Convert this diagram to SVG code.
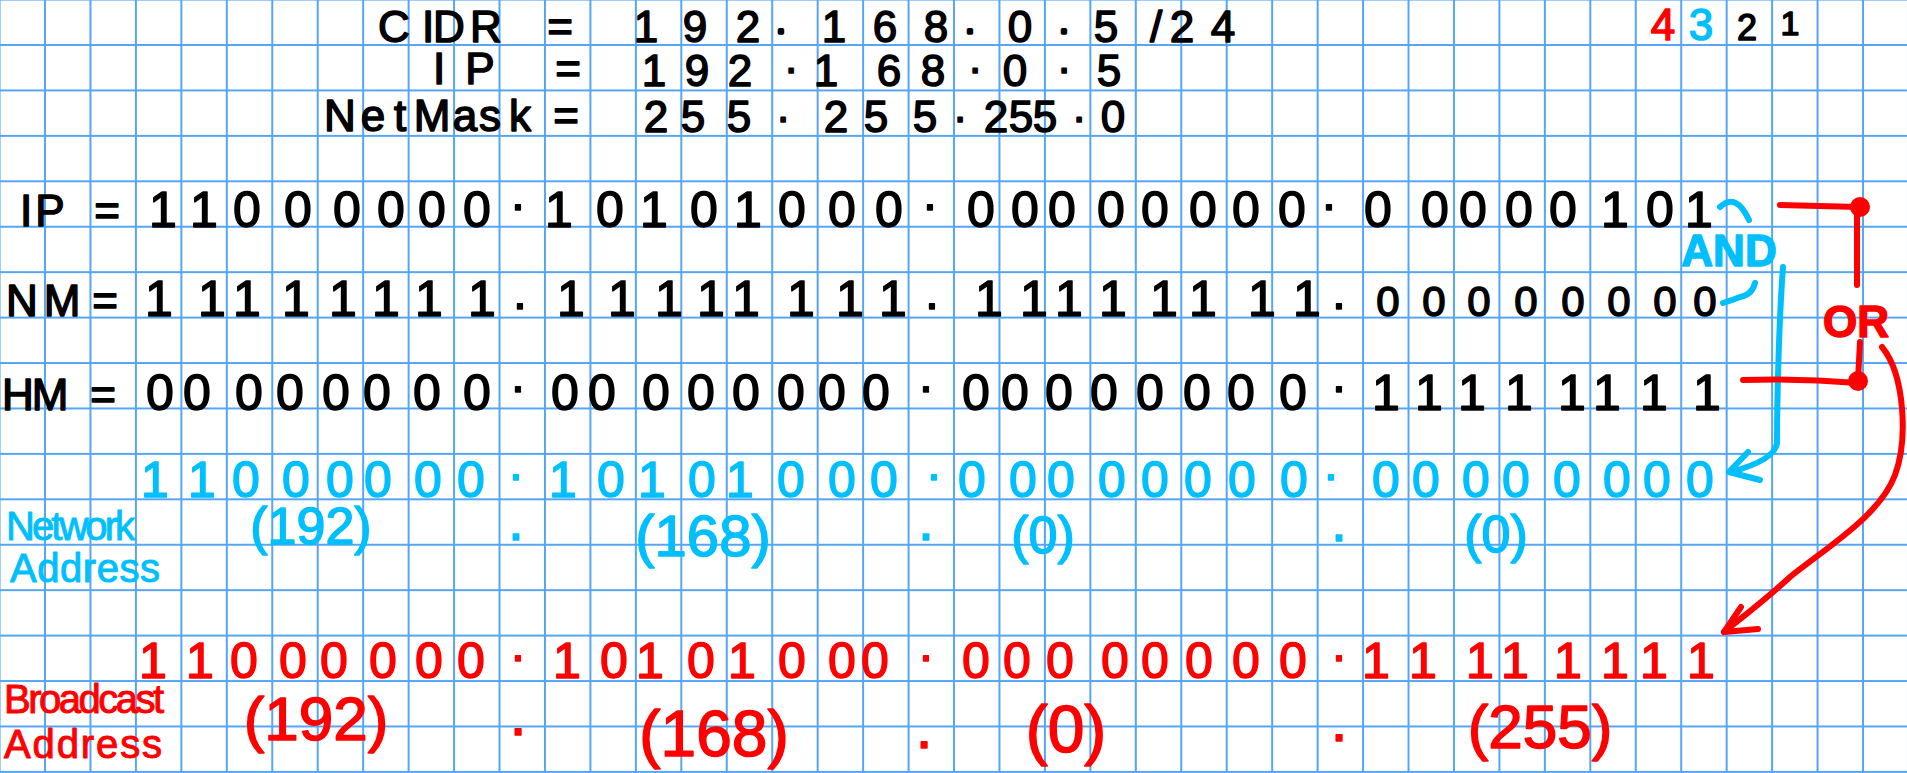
<svg xmlns="http://www.w3.org/2000/svg" width="1907" height="773" viewBox="0 0 1907 773">
<style>
text{font-family:"Liberation Sans",Arial,sans-serif;text-anchor:middle;stroke-width:1.5;stroke-linejoin:round}
.k{fill:#000;stroke:#000}
.b{fill:#00bfff;stroke:#00bfff}
.r{fill:#ff0000;stroke:#ff0000}
.hd{font-size:44px}
.bin{font-size:50px}
.lbl{font-size:40px;text-anchor:start;stroke-width:1}
.sd{font-size:30px;stroke-width:3.5}
.bl{stroke:#00bfff}
.rl{stroke:#ff0000}
</style>
<defs>
<pattern id="grid" patternUnits="userSpaceOnUse" x="22.3" y="22.3" width="45.45" height="45.43">
<path d="M22.7 0V45.43M0 22.7H45.45" stroke="#55a5f5" stroke-width="2" fill="none"/>
</pattern>
</defs>
<rect width="1907" height="773" fill="#fff"/>
<rect width="1907" height="773" fill="url(#grid)"/>

<g id="cidr">
<text class="k hd" y="42" x="394 428 449 486 520 560">CIDR =</text>
<text class="k hd" y="42" x="646 695 748 781 834 885 936 970 1020 1064 1106 1156 1182 1223">192<tspan class="sd" dy="-9">.</tspan><tspan dy="9">168</tspan><tspan class="sd" dy="-9">.</tspan><tspan dy="9">0</tspan><tspan class="sd" dy="-9">.</tspan><tspan dy="9">5/24</tspan></text>
</g>
<g id="ip-dec">
<text class="k hd" y="84" x="439 480 520 568">IP =</text>
<text class="k hd" y="86" x="654 697 740 791 826 889 933 975 1015 1064 1109">192<tspan dy="-13">.</tspan><tspan dy="13">168</tspan><tspan dy="-13">.</tspan><tspan dy="13">0</tspan><tspan dy="-13">.</tspan><tspan dy="13">5</tspan></text>
</g>
<g id="netmask-dec">
<text class="k hd" y="131" x="340 373 400 432 465 490 520 545 566">NetMask =</text>
<text class="k hd" y="132" x="656 693 739 783 836 876 925 960 996 1021 1045 1079 1113">255<tspan dy="-10">.</tspan><tspan dy="10">255</tspan><tspan dy="-10">.</tspan><tspan dy="10">255</tspan><tspan dy="-10">.</tspan><tspan dy="10">0</tspan></text>
</g>
<g id="legend">
<text class="hd" y="40" x="1663 1701 1747 1790"><tspan class="r">4</tspan><tspan class="b">3</tspan><tspan class="k" font-size="36">2</tspan><tspan class="k" font-size="34" dy="-5">1</tspan></text>
</g>

<g id="ip-bin">
<text class="k hd" y="226" x="26 50 80 107">IP =</text>
<text class="k bin" y="227" x="163 204 247 298 347 391 432 477 518 559 610 654 704 748 792 842 889 930 981 1025 1062 1111 1155 1203 1246 1292 1329 1378 1435 1473 1519 1563 1615 1660 1699">11000000<tspan dy="-17">.</tspan><tspan dy="17">10101000</tspan><tspan dy="-17">.</tspan><tspan dy="17">00000000</tspan><tspan dy="-17">.</tspan><tspan dy="17">00000101</tspan></text>
</g>
<g id="nm-bin">
<text class="k hd" y="316" x="22 62 84 105">NM =</text>
<text class="k bin" y="316" x="159 212 247 296 343 386 429 482 520 571 622 669 711 746 801 850 893 932 989 1034 1069 1113 1164 1203 1262 1307 1339 1388 1434 1479 1526 1573 1619 1665 1705">11111111<tspan dy="-7">.</tspan><tspan dy="7">11111111</tspan><tspan dy="-7">.</tspan><tspan dy="7">11111111</tspan><tspan dy="-7">.</tspan><tspan dy="7" font-size="42">00000000</tspan></text>
</g>
<g id="hm-bin">
<text class="k hd" y="410" x="18 50 78 103">HM =</text>
<text class="k bin" y="410" x="160 197 249 290 336 377 427 477 518 565 602 656 701 746 791 832 876 926 976 1015 1059 1104 1150 1197 1241 1293 1339 1386 1429 1472 1519 1572 1607 1654 1707">00000000<tspan dy="-18">.</tspan><tspan dy="18">00000000</tspan><tspan dy="-18">.</tspan><tspan dy="18">00000000</tspan><tspan dy="-18">.</tspan><tspan dy="18">11111111</tspan></text>
</g>

<g id="network-address">
<text class="b bin" y="497" x="155 202 246 296 340 378 428 471 516 563 611 652 702 740 791 842 884 934 972 1023 1061 1112 1155 1198 1242 1294 1331 1386 1426 1476 1516 1567 1617 1657 1700">11000000<tspan dy="-17">.</tspan><tspan dy="17">10101000</tspan><tspan dy="-17">.</tspan><tspan dy="17">00000000</tspan><tspan dy="-17">.</tspan><tspan dy="17">00000000</tspan></text>
<text class="b lbl" x="6" y="540" textLength="129">Network</text>
<text class="b lbl" x="10" y="582" textLength="150">Address</text>
<text class="b" font-size="52" x="311" y="544">(192)</text>
<text class="b" font-size="56" x="516" y="540">.</text>
<text class="b" font-size="58" x="703" y="556">(168)</text>
<text class="b" font-size="56" x="926" y="540">.</text>
<text class="b" font-size="52" x="1043" y="553">(0)</text>
<text class="b" font-size="56" x="1339" y="541">.</text>
<text class="b" font-size="52" x="1496" y="552">(0)</text>
</g>

<g id="broadcast-address">
<text class="r bin" y="678" x="153 200 244 293 334 383 429 471 518 567 614 650 701 742 792 842 875 926 976 1017 1060 1115 1155 1199 1246 1293 1339 1376 1423 1480 1515 1568 1615 1654 1701">11000000<tspan dy="-17">.</tspan><tspan dy="17">10101000</tspan><tspan dy="-17">.</tspan><tspan dy="17">00000000</tspan><tspan dy="-17">.</tspan><tspan dy="17">11111111</tspan></text>
<text class="r lbl" x="4" y="713" font-size="40" textLength="160">Broadcast</text>
<text class="r lbl" x="4" y="758" font-size="42" textLength="158">Address</text>
<text class="r" font-size="62" x="316" y="740">(192)</text>
<text class="r" font-size="60" x="518" y="735">.</text>
<text class="r" font-size="64" x="714" y="756">(168)</text>
<text class="r" font-size="60" x="924" y="748">.</text>
<text class="r" font-size="66" x="1066" y="752">(0)</text>
<text class="r" font-size="60" x="1339" y="741">.</text>
<text class="r" font-size="62" x="1540" y="748">(255)</text>
</g>

<g id="and-label">
<text class="b" font-size="44" font-weight="bold" x="1729" y="266">AND</text>
</g>
<g id="or-label">
<text class="r" font-size="44" font-weight="bold" x="1856" y="337">OR</text>
</g>

<g id="connectors" fill="none" stroke-linecap="round" stroke-linejoin="round" stroke-width="6">
<path class="bl" d="M1720,207 Q1736,192 1749,220"/>
<path class="bl" d="M1723,303 Q1733,300 1740,297 Q1752,295 1755,283"/>
<path class="bl" d="M1783,267 C1779,320 1777,400 1777,443 Q1775,460 1731,472"/>
<path class="bl" d="M1748,452 L1729,472 L1760,480"/>
<path class="rl" d="M1780,205 L1858,207 M1857,210 L1857,285"/>
<circle cx="1860" cy="207" r="10" fill="#ff0000" stroke="none"/>
<path class="rl" d="M1860,342 L1858,380 M1743,380 Q1800,378 1858,383"/>
<circle cx="1858" cy="381" r="10" fill="#ff0000" stroke="none"/>
<path class="rl" d="M1882,347 C1905,375 1908,440 1895,475 C1880,515 1830,545 1790,577 C1765,600 1745,615 1724,632"/>
<path class="rl" d="M1741,607 L1724,632 L1758,629"/>
</g>
</svg>
